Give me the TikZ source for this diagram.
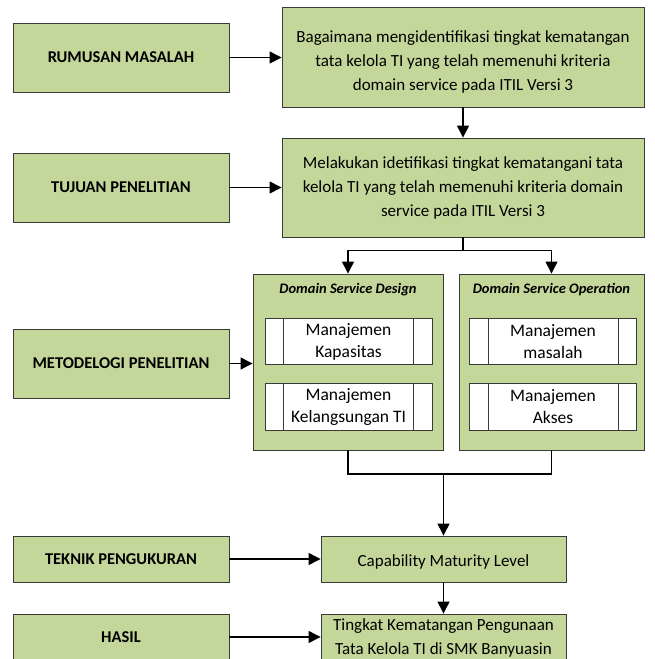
\documentclass[tikz,border=0pt]{standalone}
\usepackage{fontspec}
\setmainfont{Carlito}
\usepackage{tikz}
\usetikzlibrary{positioning,arrows.meta}
\definecolor{boxgreen}{HTML}{C4D79B}
\definecolor{edge}{HTML}{3A3A3A}

\begin{document}
\begin{tikzpicture}[
    x=1pt,y=-1pt,
    font=\fontsize{17}{24}\selectfont,
    box/.style={draw=edge,fill=boxgreen,line width=0.9pt,align=center,
                inner sep=0pt},
    lbl/.style={box,minimum width=216pt,font=\fontsize{16.5}{24}\selectfont\bfseries},
    grp/.style={box,minimum width=190pt,minimum height=176pt},
    proc/.style={draw=edge,fill=white,line width=0.8pt,align=center,inner sep=0pt,
                 minimum width=167pt,minimum height=46.5pt,
                 font=\fontsize{17.5}{22}\selectfont,
                 path picture={
                   \draw[edge,line width=0.8pt]
                     ([xshift=18.5pt]path picture bounding box.north west) --
                     ([xshift=18.5pt]path picture bounding box.south west);
                   \draw[edge,line width=0.8pt]
                     ([xshift=-18.5pt]path picture bounding box.north east) --
                     ([xshift=-18.5pt]path picture bounding box.south east);}},
    ttl/.style={font=\fontsize{14.5}{16}\selectfont\bfseries\itshape,inner sep=0pt},
    txt/.style={align=center,inner sep=0pt},
    ln/.style={draw=black,line width=1.3pt},
    arr/.style={ln,-{Triangle[length=12pt,width=12pt]}}
  ]
  \useasboundingbox (0,0) rectangle (654,659);
  \clip (0,0) rectangle (654,659);

  % left column
  \node[lbl,minimum height=69pt] (rm) at (121,57.5)  {RUMUSAN MASALAH};
  \node[lbl,minimum height=69pt] (tj) at (121,187.5) {TUJUAN PENELITIAN};
  \node[lbl,minimum height=69pt] (mt) at (121,363.5) {METODELOGI PENELITIAN};
  \node[lbl,minimum height=46pt] (tk) at (121,559)   {TEKNIK PENGUKURAN};
  \node[lbl,minimum height=46pt] (hs) at (121,637)   {HASIL};

  % right column
  \node[box,minimum width=362pt,minimum height=100pt] (q) at (463,57) {};
  \node[txt] (qtx) at (463,62)
    {Bagaimana mengidentifikasi tingkat kematangan\\
     tata kelola TI yang telah memenuhi kriteria\\
     domain service pada ITIL Versi 3};
  \node[box,minimum width=362pt,minimum height=99pt] (t) at (463,187.5)
    {Melakukan idetifikasi tingkat kematangani tata\\
     kelola TI yang telah memenuhi kriteria domain\\
     service pada ITIL Versi 3};

  % domain service groups
  \node[grp] (dd) at (348,362) {};
  \node[grp,minimum width=185pt] (op) at (551.5,362) {};
  \node[ttl] (ttlD) at (348,290) {Domain Service Design};
  \node[ttl] (ttlO) at (551.5,290) {Domain Service Operation};
  \node[proc] (kap) at (348.5,341.5) {Manajemen\\Kapasitas};
  \node[proc] (kel) at (348.5,407)   {Manajemen\\Kelangsungan TI};
  \node[proc] (mas) at (553,341.5)   {Manajemen\\masalah};
  \node[proc] (aks) at (553,407)     {Manajemen\\Akses};

  % measurement and result
  \node[box,minimum width=245pt,minimum height=46pt] (cap) at (443.5,559) {};
  \node[txt] (captx) at (443.5,562) {Capability Maturity Level};
  \node[box,minimum width=245pt,minimum height=48pt] (res) at (443.5,638)
    {Tingkat Kematangan Pengunaan\\Tata Kelola TI di SMK Banyuasin};

  % connectors
  \draw[arr] (rm.east) -- (rm.east -| q.west);
  \draw[arr] (tj.east) -- (tj.east -| t.west);
  \draw[arr] (mt.east) -- (mt.east -| dd.west);
  \draw[arr] (tk.east) -- (cap.west);
  \draw[arr] (hs.east) -- (hs.east -| res.west);
  \draw[arr] (q.south) -- (t.north);
  \draw[arr] (t.south) -- ++(0,13) -| (dd.north);
  \draw[arr] (t.south) -- ++(0,13) -| (op.north);
  \coordinate (mg) at (443.5,474);
  \draw[ln] (dd.south) |- (mg) -| (op.south);
  \draw[arr] (mg) -- (cap.north);
  \draw[arr] (cap.south) -- (res.north);

\end{tikzpicture}
\end{document}
